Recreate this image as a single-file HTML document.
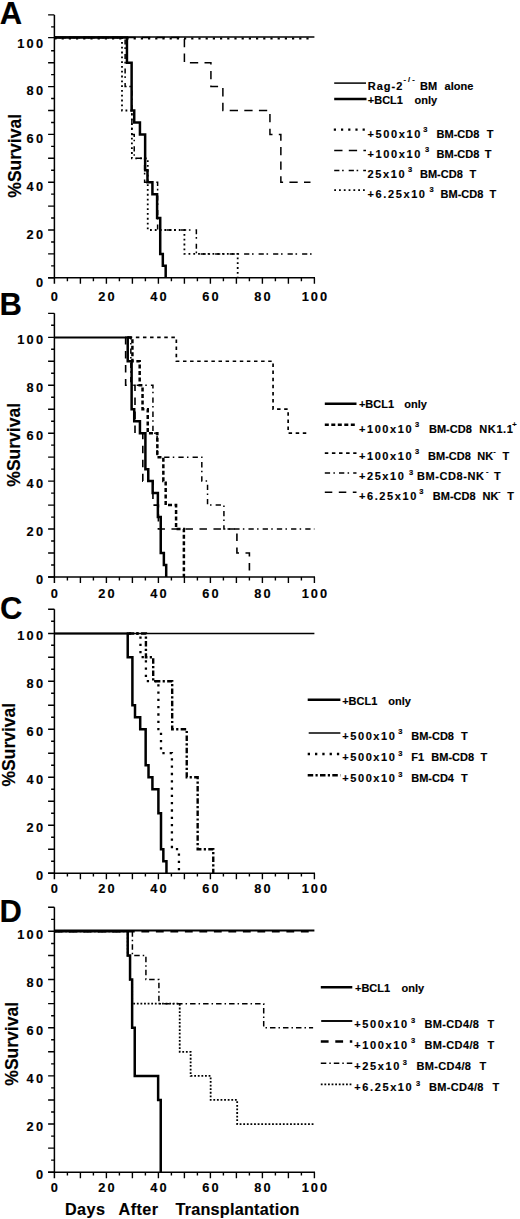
<!DOCTYPE html>
<html><head><meta charset="utf-8"><title>Survival curves</title>
<style>html,body{margin:0;padding:0;background:#fff;}svg{display:block;}
text{font-family:"Liberation Sans",sans-serif;font-weight:bold;}</style></head>
<body><svg width="520" height="1219" viewBox="0 0 520 1219">
<rect width="520" height="1219" fill="#fff"/>
<path d="M54.40,14.90 V283.80" stroke="#000" stroke-width="1.5" fill="none"/>
<path d="M48.10,277.80 H315.00" stroke="#000" stroke-width="1.5" fill="none"/>
<path d="M48.10,277.80 H54.40 M51.10,265.85 H54.40 M48.10,253.90 H54.40 M51.10,241.95 H54.40 M48.10,230.00 H54.40 M51.10,218.05 H54.40 M48.10,206.10 H54.40 M51.10,194.15 H54.40 M48.10,182.20 H54.40 M51.10,170.25 H54.40 M48.10,158.30 H54.40 M51.10,146.35 H54.40 M48.10,134.40 H54.40 M51.10,122.45 H54.40 M48.10,110.50 H54.40 M51.10,98.55 H54.40 M48.10,86.60 H54.40 M51.10,74.65 H54.40 M48.10,62.70 H54.40 M51.10,50.75 H54.40 M48.10,37.60 H54.40 M51.10,26.85 H54.40 M48.10,14.90 H54.40 M67.40,277.80 V281.20 M80.40,277.80 V283.80 M93.40,277.80 V281.20 M106.40,277.80 V283.80 M119.40,277.80 V281.20 M132.40,277.80 V283.80 M145.40,277.80 V281.20 M158.40,277.80 V283.80 M171.40,277.80 V281.20 M184.40,277.80 V283.80 M197.40,277.80 V281.20 M210.40,277.80 V283.80 M223.40,277.80 V281.20 M236.40,277.80 V283.80 M249.40,277.80 V281.20 M262.40,277.80 V283.80 M275.40,277.80 V281.20 M288.40,277.80 V283.80 M301.40,277.80 V281.20 M314.40,277.80 V283.80" stroke="#000" stroke-width="1.4" fill="none"/>
<text x="45.40" y="286.60" font-family="Liberation Sans, sans-serif" font-weight="bold" stroke="#000" stroke-width="0.15" font-size="12.8" letter-spacing="2.3" text-anchor="end">0</text>
<text x="45.40" y="238.80" font-family="Liberation Sans, sans-serif" font-weight="bold" stroke="#000" stroke-width="0.15" font-size="12.8" letter-spacing="2.3" text-anchor="end">20</text>
<text x="45.40" y="191.00" font-family="Liberation Sans, sans-serif" font-weight="bold" stroke="#000" stroke-width="0.15" font-size="12.8" letter-spacing="2.3" text-anchor="end">40</text>
<text x="45.40" y="143.20" font-family="Liberation Sans, sans-serif" font-weight="bold" stroke="#000" stroke-width="0.15" font-size="12.8" letter-spacing="2.3" text-anchor="end">60</text>
<text x="45.40" y="95.40" font-family="Liberation Sans, sans-serif" font-weight="bold" stroke="#000" stroke-width="0.15" font-size="12.8" letter-spacing="2.3" text-anchor="end">80</text>
<text x="45.40" y="47.60" font-family="Liberation Sans, sans-serif" font-weight="bold" stroke="#000" stroke-width="0.15" font-size="12.8" letter-spacing="2.3" text-anchor="end">100</text>
<text x="55.40" y="300.50" font-family="Liberation Sans, sans-serif" font-weight="bold" stroke="#000" stroke-width="0.15" font-size="12.8" letter-spacing="2" text-anchor="middle">0</text>
<text x="107.40" y="300.50" font-family="Liberation Sans, sans-serif" font-weight="bold" stroke="#000" stroke-width="0.15" font-size="12.8" letter-spacing="2" text-anchor="middle">20</text>
<text x="159.40" y="300.50" font-family="Liberation Sans, sans-serif" font-weight="bold" stroke="#000" stroke-width="0.15" font-size="12.8" letter-spacing="2" text-anchor="middle">40</text>
<text x="211.40" y="300.50" font-family="Liberation Sans, sans-serif" font-weight="bold" stroke="#000" stroke-width="0.15" font-size="12.8" letter-spacing="2" text-anchor="middle">60</text>
<text x="263.40" y="300.50" font-family="Liberation Sans, sans-serif" font-weight="bold" stroke="#000" stroke-width="0.15" font-size="12.8" letter-spacing="2" text-anchor="middle">80</text>
<text x="315.40" y="300.50" font-family="Liberation Sans, sans-serif" font-weight="bold" stroke="#000" stroke-width="0.15" font-size="12.8" letter-spacing="2" text-anchor="middle">100</text>
<text x="-0.20" y="23.50" font-family="Liberation Sans, sans-serif" font-weight="bold" stroke="#000" stroke-width="0.15" font-size="31">A</text>
<text transform="translate(20.80,155.80) rotate(-90)" font-family="Liberation Sans, sans-serif" font-weight="bold" stroke="#000" stroke-width="0.15" font-size="17.5" text-anchor="middle">%Survival</text>
<path d="M54.40,37.00 H314.40" fill="none" stroke="#000" stroke-width="1.5"/>
<path d="M54.40,38.50 H313.36" fill="none" stroke="#000" stroke-width="2.2" stroke-dasharray="2.2 5"/>
<path d="M54.40,37.60 H184.40 V62.70 H210.92 V86.60 H222.88 V110.50 H269.94 V134.40 H280.86 V182.20 H310.50" fill="none" stroke="#000" stroke-width="1.5" stroke-dasharray="8.3 6.3"/>
<path d="M54.40,37.60 H125.12 V86.60 H131.88 V134.40 H134.22 V158.30 H144.62 V182.20 H157.62 V230.00 H196.36 V253.90 H314.40" fill="none" stroke="#000" stroke-width="1.5" stroke-dasharray="5.2 2.7 1.6 5"/>
<path d="M54.40,37.60 H122.00 V110.50 H131.88 V158.30 H147.74 V230.00 H184.40 V253.90 H237.70 V277.80" fill="none" stroke="#000" stroke-width="1.8" stroke-dasharray="1.8 3"/>
<path d="M54.40,37.60 H126.94 V62.70 H131.62 V110.50 H134.22 V122.45 H139.94 V134.40 H145.14 V170.25 H147.48 V182.20 H152.42 V194.15 H157.10 V218.05 H160.22 V253.90 H162.82 V265.85 H165.68 V277.80" fill="none" stroke="#000" stroke-width="2.5"/>
<path d="M54.40,313.33 V583.00" stroke="#000" stroke-width="1.5" fill="none"/>
<path d="M48.10,577.00 H315.00" stroke="#000" stroke-width="1.5" fill="none"/>
<path d="M48.10,577.00 H54.40 M51.10,565.01 H54.40 M48.10,553.03 H54.40 M51.10,541.04 H54.40 M48.10,529.06 H54.40 M51.10,517.08 H54.40 M48.10,505.09 H54.40 M51.10,493.11 H54.40 M48.10,481.12 H54.40 M51.10,469.13 H54.40 M48.10,457.15 H54.40 M51.10,445.17 H54.40 M48.10,433.18 H54.40 M51.10,421.20 H54.40 M48.10,409.21 H54.40 M51.10,397.23 H54.40 M48.10,385.24 H54.40 M51.10,373.25 H54.40 M48.10,361.27 H54.40 M51.10,349.29 H54.40 M48.10,337.40 H54.40 M51.10,325.32 H54.40 M48.10,313.33 H54.40 M67.40,577.00 V580.40 M80.40,577.00 V583.00 M93.40,577.00 V580.40 M106.40,577.00 V583.00 M119.40,577.00 V580.40 M132.40,577.00 V583.00 M145.40,577.00 V580.40 M158.40,577.00 V583.00 M171.40,577.00 V580.40 M184.40,577.00 V583.00 M197.40,577.00 V580.40 M210.40,577.00 V583.00 M223.40,577.00 V580.40 M236.40,577.00 V583.00 M249.40,577.00 V580.40 M262.40,577.00 V583.00 M275.40,577.00 V580.40 M288.40,577.00 V583.00 M301.40,577.00 V580.40 M314.40,577.00 V583.00" stroke="#000" stroke-width="1.4" fill="none"/>
<text x="45.40" y="583.90" font-family="Liberation Sans, sans-serif" font-weight="bold" stroke="#000" stroke-width="0.15" font-size="12.8" letter-spacing="2.3" text-anchor="end">0</text>
<text x="45.40" y="535.96" font-family="Liberation Sans, sans-serif" font-weight="bold" stroke="#000" stroke-width="0.15" font-size="12.8" letter-spacing="2.3" text-anchor="end">20</text>
<text x="45.40" y="488.02" font-family="Liberation Sans, sans-serif" font-weight="bold" stroke="#000" stroke-width="0.15" font-size="12.8" letter-spacing="2.3" text-anchor="end">40</text>
<text x="45.40" y="440.08" font-family="Liberation Sans, sans-serif" font-weight="bold" stroke="#000" stroke-width="0.15" font-size="12.8" letter-spacing="2.3" text-anchor="end">60</text>
<text x="45.40" y="392.14" font-family="Liberation Sans, sans-serif" font-weight="bold" stroke="#000" stroke-width="0.15" font-size="12.8" letter-spacing="2.3" text-anchor="end">80</text>
<text x="45.40" y="344.20" font-family="Liberation Sans, sans-serif" font-weight="bold" stroke="#000" stroke-width="0.15" font-size="12.8" letter-spacing="2.3" text-anchor="end">100</text>
<text x="55.40" y="597.50" font-family="Liberation Sans, sans-serif" font-weight="bold" stroke="#000" stroke-width="0.15" font-size="12.8" letter-spacing="2" text-anchor="middle">0</text>
<text x="107.40" y="597.50" font-family="Liberation Sans, sans-serif" font-weight="bold" stroke="#000" stroke-width="0.15" font-size="12.8" letter-spacing="2" text-anchor="middle">20</text>
<text x="159.40" y="597.50" font-family="Liberation Sans, sans-serif" font-weight="bold" stroke="#000" stroke-width="0.15" font-size="12.8" letter-spacing="2" text-anchor="middle">40</text>
<text x="211.40" y="597.50" font-family="Liberation Sans, sans-serif" font-weight="bold" stroke="#000" stroke-width="0.15" font-size="12.8" letter-spacing="2" text-anchor="middle">60</text>
<text x="263.40" y="597.50" font-family="Liberation Sans, sans-serif" font-weight="bold" stroke="#000" stroke-width="0.15" font-size="12.8" letter-spacing="2" text-anchor="middle">80</text>
<text x="315.40" y="597.50" font-family="Liberation Sans, sans-serif" font-weight="bold" stroke="#000" stroke-width="0.15" font-size="12.8" letter-spacing="2" text-anchor="middle">100</text>
<text x="-0.60" y="315.20" font-family="Liberation Sans, sans-serif" font-weight="bold" stroke="#000" stroke-width="0.15" font-size="31">B</text>
<text transform="translate(20.40,444.80) rotate(-90)" font-family="Liberation Sans, sans-serif" font-weight="bold" stroke="#000" stroke-width="0.15" font-size="17.5" text-anchor="middle">%Survival</text>
<path d="M54.40,337.40 H127.72" stroke="#000" stroke-width="2.0" fill="none"/>
<path d="M128.76,337.40 H176.34 V361.27 H273.06 V409.21 H288.14 V433.18 H309.46" fill="none" stroke="#000" stroke-width="1.7" stroke-dasharray="3.5 3.6"/>
<path d="M127.72,337.40 H130.84 V385.24 H152.94 V433.18 H157.10 V457.15 H201.82 V481.12 H207.54 V505.09 H223.92 V529.06 H314.40" fill="none" stroke="#000" stroke-width="1.5" stroke-dasharray="5.3 3.3 1.5 4.1"/>
<path d="M125.12,337.40 H125.64 V385.24 H135.00 V433.18 H142.80 V481.12 H152.94 V505.09 H158.40 V529.06 H236.92 V553.03 H249.40 V577.00" fill="none" stroke="#000" stroke-width="1.6" stroke-dasharray="7.5 6.5"/>
<path d="M127.72,337.40 H132.40 V361.27 H139.68 V385.24 H142.54 V409.21 H147.74 V433.18 H157.36 V457.15 H163.34 V481.12 H165.68 V505.09 H176.08 V529.06 H183.88 V577.00" fill="none" stroke="#000" stroke-width="2.5" stroke-dasharray="4 2.5"/>
<path d="M126.68,337.40 H127.72 V361.27 H131.62 V409.21 H134.22 V421.20 H139.94 V433.18 H145.40 V469.13 H148.26 V481.12 H152.68 V493.11 H157.88 V517.08 H160.74 V553.03 H163.86 V565.01 H166.20 V577.00" fill="none" stroke="#000" stroke-width="2.5"/>
<path d="M54.40,609.20 V879.20" stroke="#000" stroke-width="1.5" fill="none"/>
<path d="M48.10,873.20 H315.00" stroke="#000" stroke-width="1.5" fill="none"/>
<path d="M48.10,873.20 H54.40 M51.10,861.20 H54.40 M48.10,849.20 H54.40 M51.10,837.20 H54.40 M48.10,825.20 H54.40 M51.10,813.20 H54.40 M48.10,801.20 H54.40 M51.10,789.20 H54.40 M48.10,777.20 H54.40 M51.10,765.20 H54.40 M48.10,753.20 H54.40 M51.10,741.20 H54.40 M48.10,729.20 H54.40 M51.10,717.20 H54.40 M48.10,705.20 H54.40 M51.10,693.20 H54.40 M48.10,681.20 H54.40 M51.10,669.20 H54.40 M48.10,657.20 H54.40 M51.10,645.20 H54.40 M48.10,633.50 H54.40 M51.10,621.20 H54.40 M48.10,609.20 H54.40 M67.40,873.20 V876.60 M80.40,873.20 V879.20 M93.40,873.20 V876.60 M106.40,873.20 V879.20 M119.40,873.20 V876.60 M132.40,873.20 V879.20 M145.40,873.20 V876.60 M158.40,873.20 V879.20 M171.40,873.20 V876.60 M184.40,873.20 V879.20 M197.40,873.20 V876.60 M210.40,873.20 V879.20 M223.40,873.20 V876.60 M236.40,873.20 V879.20 M249.40,873.20 V876.60 M262.40,873.20 V879.20 M275.40,873.20 V876.60 M288.40,873.20 V879.20 M301.40,873.20 V876.60 M314.40,873.20 V879.20" stroke="#000" stroke-width="1.4" fill="none"/>
<text x="45.40" y="879.90" font-family="Liberation Sans, sans-serif" font-weight="bold" stroke="#000" stroke-width="0.15" font-size="12.8" letter-spacing="2.3" text-anchor="end">0</text>
<text x="45.40" y="831.90" font-family="Liberation Sans, sans-serif" font-weight="bold" stroke="#000" stroke-width="0.15" font-size="12.8" letter-spacing="2.3" text-anchor="end">20</text>
<text x="45.40" y="783.90" font-family="Liberation Sans, sans-serif" font-weight="bold" stroke="#000" stroke-width="0.15" font-size="12.8" letter-spacing="2.3" text-anchor="end">40</text>
<text x="45.40" y="735.90" font-family="Liberation Sans, sans-serif" font-weight="bold" stroke="#000" stroke-width="0.15" font-size="12.8" letter-spacing="2.3" text-anchor="end">60</text>
<text x="45.40" y="687.90" font-family="Liberation Sans, sans-serif" font-weight="bold" stroke="#000" stroke-width="0.15" font-size="12.8" letter-spacing="2.3" text-anchor="end">80</text>
<text x="45.40" y="639.90" font-family="Liberation Sans, sans-serif" font-weight="bold" stroke="#000" stroke-width="0.15" font-size="12.8" letter-spacing="2.3" text-anchor="end">100</text>
<text x="55.40" y="893.20" font-family="Liberation Sans, sans-serif" font-weight="bold" stroke="#000" stroke-width="0.15" font-size="12.8" letter-spacing="2" text-anchor="middle">0</text>
<text x="107.40" y="893.20" font-family="Liberation Sans, sans-serif" font-weight="bold" stroke="#000" stroke-width="0.15" font-size="12.8" letter-spacing="2" text-anchor="middle">20</text>
<text x="159.40" y="893.20" font-family="Liberation Sans, sans-serif" font-weight="bold" stroke="#000" stroke-width="0.15" font-size="12.8" letter-spacing="2" text-anchor="middle">40</text>
<text x="211.40" y="893.20" font-family="Liberation Sans, sans-serif" font-weight="bold" stroke="#000" stroke-width="0.15" font-size="12.8" letter-spacing="2" text-anchor="middle">60</text>
<text x="263.40" y="893.20" font-family="Liberation Sans, sans-serif" font-weight="bold" stroke="#000" stroke-width="0.15" font-size="12.8" letter-spacing="2" text-anchor="middle">80</text>
<text x="315.40" y="893.20" font-family="Liberation Sans, sans-serif" font-weight="bold" stroke="#000" stroke-width="0.15" font-size="12.8" letter-spacing="2" text-anchor="middle">100</text>
<text x="0.00" y="619.00" font-family="Liberation Sans, sans-serif" font-weight="bold" stroke="#000" stroke-width="0.15" font-size="31">C</text>
<text transform="translate(14.60,744.70) rotate(-90)" font-family="Liberation Sans, sans-serif" font-weight="bold" stroke="#000" stroke-width="0.15" font-size="17.5" text-anchor="middle">%Survival</text>
<path d="M54.40,633.50 H314.40" fill="none" stroke="#000" stroke-width="1.5"/>
<path d="M54.40,633.50 H127.72" stroke="#000" stroke-width="2.0" fill="none"/>
<path d="M128.76,633.50 H140.46 V657.20 H145.92 V681.20 H158.40 V729.20 H161.00 V753.20 H171.92 V849.20 H178.94 V873.20" fill="none" stroke="#000" stroke-width="2.3" stroke-dasharray="2.3 5"/>
<path d="M128.76,633.50 H145.92 V657.20 H153.20 V681.20 H172.18 V729.20 H186.74 V777.20 H197.66 V849.20 H213.26 V873.20" fill="none" stroke="#000" stroke-width="2.4" stroke-dasharray="5.5 2.3 2.2 2.3"/>
<path d="M126.68,633.50 H127.72 V657.20 H132.40 V705.20 H135.00 V717.20 H140.20 V729.20 H145.66 V765.20 H148.52 V777.20 H152.42 V789.20 H158.40 V813.20 H161.00 V849.20 H163.34 V861.20 H166.46 V873.20" fill="none" stroke="#000" stroke-width="2.5"/>
<path d="M54.40,907.32 V1178.20" stroke="#000" stroke-width="1.5" fill="none"/>
<path d="M48.10,1172.20 H315.00" stroke="#000" stroke-width="1.5" fill="none"/>
<path d="M48.10,1172.20 H54.40 M51.10,1160.16 H54.40 M48.10,1148.12 H54.40 M51.10,1136.08 H54.40 M48.10,1124.04 H54.40 M51.10,1112.00 H54.40 M48.10,1099.96 H54.40 M51.10,1087.92 H54.40 M48.10,1075.88 H54.40 M51.10,1063.84 H54.40 M48.10,1051.80 H54.40 M51.10,1039.76 H54.40 M48.10,1027.72 H54.40 M51.10,1015.68 H54.40 M48.10,1003.64 H54.40 M51.10,991.60 H54.40 M48.10,979.56 H54.40 M51.10,967.52 H54.40 M48.10,955.48 H54.40 M51.10,943.44 H54.40 M48.10,931.30 H54.40 M51.10,919.36 H54.40 M48.10,907.32 H54.40 M67.40,1172.20 V1175.60 M80.40,1172.20 V1178.20 M93.40,1172.20 V1175.60 M106.40,1172.20 V1178.20 M119.40,1172.20 V1175.60 M132.40,1172.20 V1178.20 M145.40,1172.20 V1175.60 M158.40,1172.20 V1178.20 M171.40,1172.20 V1175.60 M184.40,1172.20 V1178.20 M197.40,1172.20 V1175.60 M210.40,1172.20 V1178.20 M223.40,1172.20 V1175.60 M236.40,1172.20 V1178.20 M249.40,1172.20 V1175.60 M262.40,1172.20 V1178.20 M275.40,1172.20 V1175.60 M288.40,1172.20 V1178.20 M301.40,1172.20 V1175.60 M314.40,1172.20 V1178.20" stroke="#000" stroke-width="1.4" fill="none"/>
<text x="45.40" y="1179.40" font-family="Liberation Sans, sans-serif" font-weight="bold" stroke="#000" stroke-width="0.15" font-size="12.8" letter-spacing="2.3" text-anchor="end">0</text>
<text x="45.40" y="1131.24" font-family="Liberation Sans, sans-serif" font-weight="bold" stroke="#000" stroke-width="0.15" font-size="12.8" letter-spacing="2.3" text-anchor="end">20</text>
<text x="45.40" y="1083.08" font-family="Liberation Sans, sans-serif" font-weight="bold" stroke="#000" stroke-width="0.15" font-size="12.8" letter-spacing="2.3" text-anchor="end">40</text>
<text x="45.40" y="1034.92" font-family="Liberation Sans, sans-serif" font-weight="bold" stroke="#000" stroke-width="0.15" font-size="12.8" letter-spacing="2.3" text-anchor="end">60</text>
<text x="45.40" y="986.76" font-family="Liberation Sans, sans-serif" font-weight="bold" stroke="#000" stroke-width="0.15" font-size="12.8" letter-spacing="2.3" text-anchor="end">80</text>
<text x="45.40" y="938.60" font-family="Liberation Sans, sans-serif" font-weight="bold" stroke="#000" stroke-width="0.15" font-size="12.8" letter-spacing="2.3" text-anchor="end">100</text>
<text x="55.40" y="1191.80" font-family="Liberation Sans, sans-serif" font-weight="bold" stroke="#000" stroke-width="0.15" font-size="12.8" letter-spacing="2" text-anchor="middle">0</text>
<text x="107.40" y="1191.80" font-family="Liberation Sans, sans-serif" font-weight="bold" stroke="#000" stroke-width="0.15" font-size="12.8" letter-spacing="2" text-anchor="middle">20</text>
<text x="159.40" y="1191.80" font-family="Liberation Sans, sans-serif" font-weight="bold" stroke="#000" stroke-width="0.15" font-size="12.8" letter-spacing="2" text-anchor="middle">40</text>
<text x="211.40" y="1191.80" font-family="Liberation Sans, sans-serif" font-weight="bold" stroke="#000" stroke-width="0.15" font-size="12.8" letter-spacing="2" text-anchor="middle">60</text>
<text x="263.40" y="1191.80" font-family="Liberation Sans, sans-serif" font-weight="bold" stroke="#000" stroke-width="0.15" font-size="12.8" letter-spacing="2" text-anchor="middle">80</text>
<text x="315.40" y="1191.80" font-family="Liberation Sans, sans-serif" font-weight="bold" stroke="#000" stroke-width="0.15" font-size="12.8" letter-spacing="2" text-anchor="middle">100</text>
<text x="-0.40" y="922.20" font-family="Liberation Sans, sans-serif" font-weight="bold" stroke="#000" stroke-width="0.15" font-size="31">D</text>
<text transform="translate(18.40,1043.80) rotate(-90)" font-family="Liberation Sans, sans-serif" font-weight="bold" stroke="#000" stroke-width="0.15" font-size="17.5" text-anchor="middle">%Survival</text>
<path d="M54.40,930.50 H314.40" fill="none" stroke="#000" stroke-width="1.9"/>
<path d="M54.40,931.20 H314.40" fill="none" stroke="#000" stroke-width="2.4" stroke-dasharray="7.8 6.7"/>
<path d="M54.40,931.30 H132.40 V955.48 H145.92 V979.56 H158.92 V1003.64 H263.70 V1027.72 H313.10" fill="none" stroke="#000" stroke-width="1.5" stroke-dasharray="5.5 3 1.5 3"/>
<path d="M54.40,931.30 H127.72 V955.48 H130.06 V979.56 H132.14 V1003.64 H179.72 V1051.80 H190.64 V1075.88 H210.66 V1099.96 H237.18 V1124.04 H314.40" fill="none" stroke="#000" stroke-width="1.8" stroke-dasharray="1.8 1.8"/>
<path d="M54.40,931.30 H127.72 V955.48 H130.06 V979.56 H132.14 V1027.72 H134.74 V1075.88 H158.14 V1099.96 H160.74 V1172.20" fill="none" stroke="#000" stroke-width="2.5"/>
<path d="M334.20,83.10 H366.00" stroke="#000" fill="none" stroke-width="1.5"/>
<text x="367.80" y="90.20" font-family="Liberation Sans, sans-serif" font-weight="bold" stroke="#000" stroke-width="0.15" font-size="11" letter-spacing="1.0">Rag-2</text>
<text x="403.60" y="82.30" font-family="Liberation Sans, sans-serif" font-weight="bold" stroke="#000" stroke-width="0.15" font-size="7.5" letter-spacing="2.0">-/-</text>
<text x="420.00" y="90.20" font-family="Liberation Sans, sans-serif" font-weight="bold" stroke="#000" stroke-width="0.15" font-size="11" letter-spacing="0">BM</text>
<text x="444.60" y="90.20" font-family="Liberation Sans, sans-serif" font-weight="bold" stroke="#000" stroke-width="0.15" font-size="11" letter-spacing="0">alone</text>
<path d="M334.20,99.00 H366.50" stroke="#000" fill="none" stroke-width="2.5"/>
<text x="367.80" y="103.70" font-family="Liberation Sans, sans-serif" font-weight="bold" stroke="#000" stroke-width="0.15" font-size="11" letter-spacing="0">+BCL1</text>
<text x="414.60" y="103.70" font-family="Liberation Sans, sans-serif" font-weight="bold" stroke="#000" stroke-width="0.15" font-size="11" letter-spacing="0">only</text>
<path d="M333.80,129.60 H366.00" stroke="#000" fill="none" stroke-width="2.2" stroke-dasharray="2.2 5"/>
<text x="367.60" y="137.80" font-family="Liberation Sans, sans-serif" font-weight="bold" stroke="#000" stroke-width="0.15" font-size="11" letter-spacing="1.6">+500x10</text>
<text x="423.30" y="132.30" font-family="Liberation Sans, sans-serif" font-weight="bold" stroke="#000" stroke-width="0.15" font-size="7.5" letter-spacing="0">3</text>
<text x="436.60" y="137.80" font-family="Liberation Sans, sans-serif" font-weight="bold" stroke="#000" stroke-width="0.15" font-size="11" letter-spacing="0">BM-CD8</text>
<text x="486.80" y="137.80" font-family="Liberation Sans, sans-serif" font-weight="bold" stroke="#000" stroke-width="0.15" font-size="11" letter-spacing="0">T</text>
<path d="M334.20,150.40 H366.00" stroke="#000" fill="none" stroke-width="1.5" stroke-dasharray="8.3 6.3"/>
<text x="367.60" y="157.60" font-family="Liberation Sans, sans-serif" font-weight="bold" stroke="#000" stroke-width="0.15" font-size="11" letter-spacing="1.6">+100x10</text>
<text x="425.00" y="152.10" font-family="Liberation Sans, sans-serif" font-weight="bold" stroke="#000" stroke-width="0.15" font-size="7.5" letter-spacing="0">3</text>
<text x="436.60" y="157.60" font-family="Liberation Sans, sans-serif" font-weight="bold" stroke="#000" stroke-width="0.15" font-size="11" letter-spacing="0">BM-CD8</text>
<text x="484.80" y="157.60" font-family="Liberation Sans, sans-serif" font-weight="bold" stroke="#000" stroke-width="0.15" font-size="11" letter-spacing="0">T</text>
<path d="M334.20,170.60 H366.00" stroke="#000" fill="none" stroke-width="1.5" stroke-dasharray="5.2 2.7 1.6 5"/>
<text x="367.60" y="177.60" font-family="Liberation Sans, sans-serif" font-weight="bold" stroke="#000" stroke-width="0.15" font-size="11" letter-spacing="1.6">25x10</text>
<text x="408.00" y="172.10" font-family="Liberation Sans, sans-serif" font-weight="bold" stroke="#000" stroke-width="0.15" font-size="7.5" letter-spacing="0">3</text>
<text x="420.00" y="177.60" font-family="Liberation Sans, sans-serif" font-weight="bold" stroke="#000" stroke-width="0.15" font-size="11" letter-spacing="0">BM-CD8</text>
<text x="469.40" y="177.60" font-family="Liberation Sans, sans-serif" font-weight="bold" stroke="#000" stroke-width="0.15" font-size="11" letter-spacing="0">T</text>
<path d="M334.20,190.20 H366.00" stroke="#000" fill="none" stroke-width="1.8" stroke-dasharray="1.8 3"/>
<text x="367.60" y="197.80" font-family="Liberation Sans, sans-serif" font-weight="bold" stroke="#000" stroke-width="0.15" font-size="11" letter-spacing="1.6">+6.25x10</text>
<text x="429.60" y="192.30" font-family="Liberation Sans, sans-serif" font-weight="bold" stroke="#000" stroke-width="0.15" font-size="7.5" letter-spacing="0">3</text>
<text x="440.60" y="197.80" font-family="Liberation Sans, sans-serif" font-weight="bold" stroke="#000" stroke-width="0.15" font-size="11" letter-spacing="0">BM-CD8</text>
<text x="489.60" y="197.80" font-family="Liberation Sans, sans-serif" font-weight="bold" stroke="#000" stroke-width="0.15" font-size="11" letter-spacing="0">T</text>
<path d="M324.80,403.70 H356.50" stroke="#000" fill="none" stroke-width="2.5"/>
<text x="358.90" y="408.20" font-family="Liberation Sans, sans-serif" font-weight="bold" stroke="#000" stroke-width="0.15" font-size="11" letter-spacing="0">+BCL1</text>
<text x="404.20" y="408.20" font-family="Liberation Sans, sans-serif" font-weight="bold" stroke="#000" stroke-width="0.15" font-size="11" letter-spacing="0">only</text>
<path d="M324.80,424.80 H356.50" stroke="#000" fill="none" stroke-width="2.5" stroke-dasharray="4 2.5"/>
<text x="358.90" y="432.60" font-family="Liberation Sans, sans-serif" font-weight="bold" stroke="#000" stroke-width="0.15" font-size="11" letter-spacing="1.6">+100x10</text>
<text x="415.00" y="427.10" font-family="Liberation Sans, sans-serif" font-weight="bold" stroke="#000" stroke-width="0.15" font-size="7.5" letter-spacing="0">3</text>
<text x="429.00" y="432.60" font-family="Liberation Sans, sans-serif" font-weight="bold" stroke="#000" stroke-width="0.15" font-size="11" letter-spacing="0">BM-CD8</text>
<text x="479.30" y="432.60" font-family="Liberation Sans, sans-serif" font-weight="bold" stroke="#000" stroke-width="0.15" font-size="11" letter-spacing="0.6">NK1.1</text>
<text x="512.20" y="426.50" font-family="Liberation Sans, sans-serif" font-weight="bold" stroke="#000" stroke-width="0.15" font-size="7.5" letter-spacing="0">+</text>
<path d="M324.80,453.10 H356.50" stroke="#000" fill="none" stroke-width="1.7" stroke-dasharray="3.5 3.6"/>
<text x="358.90" y="459.70" font-family="Liberation Sans, sans-serif" font-weight="bold" stroke="#000" stroke-width="0.15" font-size="11" letter-spacing="1.6">+100x10</text>
<text x="415.00" y="454.20" font-family="Liberation Sans, sans-serif" font-weight="bold" stroke="#000" stroke-width="0.15" font-size="7.5" letter-spacing="0">3</text>
<text x="428.10" y="459.70" font-family="Liberation Sans, sans-serif" font-weight="bold" stroke="#000" stroke-width="0.15" font-size="11" letter-spacing="0">BM-CD8</text>
<text x="477.20" y="459.70" font-family="Liberation Sans, sans-serif" font-weight="bold" stroke="#000" stroke-width="0.15" font-size="11" letter-spacing="0">NK</text>
<text x="493.30" y="454.00" font-family="Liberation Sans, sans-serif" font-weight="bold" stroke="#000" stroke-width="0.15" font-size="7.5" letter-spacing="0">-</text>
<text x="502.50" y="459.70" font-family="Liberation Sans, sans-serif" font-weight="bold" stroke="#000" stroke-width="0.15" font-size="11" letter-spacing="0">T</text>
<path d="M324.80,473.10 H356.50" stroke="#000" fill="none" stroke-width="1.5" stroke-dasharray="5.3 3.3 1.5 4.1"/>
<text x="358.90" y="480.00" font-family="Liberation Sans, sans-serif" font-weight="bold" stroke="#000" stroke-width="0.15" font-size="11" letter-spacing="1.6">+25x10</text>
<text x="409.00" y="474.50" font-family="Liberation Sans, sans-serif" font-weight="bold" stroke="#000" stroke-width="0.15" font-size="7.5" letter-spacing="0">3</text>
<text x="416.90" y="480.00" font-family="Liberation Sans, sans-serif" font-weight="bold" stroke="#000" stroke-width="0.15" font-size="11" letter-spacing="0.6">BM-CD8-NK</text>
<text x="485.90" y="474.30" font-family="Liberation Sans, sans-serif" font-weight="bold" stroke="#000" stroke-width="0.15" font-size="7.5" letter-spacing="0">-</text>
<text x="494.10" y="480.00" font-family="Liberation Sans, sans-serif" font-weight="bold" stroke="#000" stroke-width="0.15" font-size="11" letter-spacing="0">T</text>
<path d="M324.80,492.30 H356.50" stroke="#000" fill="none" stroke-width="1.6" stroke-dasharray="7.5 6.5"/>
<text x="358.90" y="499.60" font-family="Liberation Sans, sans-serif" font-weight="bold" stroke="#000" stroke-width="0.15" font-size="11" letter-spacing="1.6">+6.25x10</text>
<text x="419.20" y="494.10" font-family="Liberation Sans, sans-serif" font-weight="bold" stroke="#000" stroke-width="0.15" font-size="7.5" letter-spacing="0">3</text>
<text x="432.80" y="499.60" font-family="Liberation Sans, sans-serif" font-weight="bold" stroke="#000" stroke-width="0.15" font-size="11" letter-spacing="0">BM-CD8</text>
<text x="482.50" y="499.60" font-family="Liberation Sans, sans-serif" font-weight="bold" stroke="#000" stroke-width="0.15" font-size="11" letter-spacing="0">NK</text>
<text x="498.10" y="493.90" font-family="Liberation Sans, sans-serif" font-weight="bold" stroke="#000" stroke-width="0.15" font-size="7.5" letter-spacing="0">-</text>
<text x="507.20" y="499.60" font-family="Liberation Sans, sans-serif" font-weight="bold" stroke="#000" stroke-width="0.15" font-size="11" letter-spacing="0">T</text>
<path d="M307.70,699.80 H340.40" stroke="#000" fill="none" stroke-width="2.5"/>
<text x="342.20" y="705.00" font-family="Liberation Sans, sans-serif" font-weight="bold" stroke="#000" stroke-width="0.15" font-size="11" letter-spacing="0">+BCL1</text>
<text x="388.30" y="705.00" font-family="Liberation Sans, sans-serif" font-weight="bold" stroke="#000" stroke-width="0.15" font-size="11" letter-spacing="0">only</text>
<path d="M308.70,732.90 H340.40" stroke="#000" fill="none" stroke-width="1.5"/>
<text x="342.20" y="739.70" font-family="Liberation Sans, sans-serif" font-weight="bold" stroke="#000" stroke-width="0.15" font-size="11" letter-spacing="1.6">+500x10</text>
<text x="398.30" y="734.20" font-family="Liberation Sans, sans-serif" font-weight="bold" stroke="#000" stroke-width="0.15" font-size="7.5" letter-spacing="0">3</text>
<text x="411.20" y="739.70" font-family="Liberation Sans, sans-serif" font-weight="bold" stroke="#000" stroke-width="0.15" font-size="11" letter-spacing="0">BM-CD8</text>
<text x="460.90" y="739.70" font-family="Liberation Sans, sans-serif" font-weight="bold" stroke="#000" stroke-width="0.15" font-size="11" letter-spacing="0">T</text>
<path d="M307.70,754.00 H340.40" stroke="#000" fill="none" stroke-width="2.3" stroke-dasharray="2.3 5"/>
<text x="342.20" y="761.20" font-family="Liberation Sans, sans-serif" font-weight="bold" stroke="#000" stroke-width="0.15" font-size="11" letter-spacing="1.6">+500x10</text>
<text x="398.30" y="755.70" font-family="Liberation Sans, sans-serif" font-weight="bold" stroke="#000" stroke-width="0.15" font-size="7.5" letter-spacing="0">3</text>
<text x="411.20" y="761.20" font-family="Liberation Sans, sans-serif" font-weight="bold" stroke="#000" stroke-width="0.15" font-size="11" letter-spacing="0">F1</text>
<text x="431.30" y="761.20" font-family="Liberation Sans, sans-serif" font-weight="bold" stroke="#000" stroke-width="0.15" font-size="11" letter-spacing="0">BM-CD8</text>
<text x="480.60" y="761.20" font-family="Liberation Sans, sans-serif" font-weight="bold" stroke="#000" stroke-width="0.15" font-size="11" letter-spacing="0">T</text>
<path d="M307.70,775.20 H340.40" stroke="#000" fill="none" stroke-width="2.4" stroke-dasharray="5.5 2.3 2.2 2.3"/>
<text x="342.20" y="782.00" font-family="Liberation Sans, sans-serif" font-weight="bold" stroke="#000" stroke-width="0.15" font-size="11" letter-spacing="1.6">+500x10</text>
<text x="398.30" y="776.50" font-family="Liberation Sans, sans-serif" font-weight="bold" stroke="#000" stroke-width="0.15" font-size="7.5" letter-spacing="0">3</text>
<text x="411.20" y="782.00" font-family="Liberation Sans, sans-serif" font-weight="bold" stroke="#000" stroke-width="0.15" font-size="11" letter-spacing="0">BM-CD4</text>
<text x="460.90" y="782.00" font-family="Liberation Sans, sans-serif" font-weight="bold" stroke="#000" stroke-width="0.15" font-size="11" letter-spacing="0">T</text>
<path d="M320.80,987.30 H352.30" stroke="#000" fill="none" stroke-width="2.5"/>
<text x="355.00" y="992.20" font-family="Liberation Sans, sans-serif" font-weight="bold" stroke="#000" stroke-width="0.15" font-size="11" letter-spacing="0">+BCL1</text>
<text x="401.60" y="992.20" font-family="Liberation Sans, sans-serif" font-weight="bold" stroke="#000" stroke-width="0.15" font-size="11" letter-spacing="0">only</text>
<path d="M321.20,1021.00 H352.30" stroke="#000" fill="none" stroke-width="1.9"/>
<text x="354.30" y="1028.20" font-family="Liberation Sans, sans-serif" font-weight="bold" stroke="#000" stroke-width="0.15" font-size="11" letter-spacing="1.6">+500x10</text>
<text x="411.00" y="1022.70" font-family="Liberation Sans, sans-serif" font-weight="bold" stroke="#000" stroke-width="0.15" font-size="7.5" letter-spacing="0">3</text>
<text x="424.50" y="1028.20" font-family="Liberation Sans, sans-serif" font-weight="bold" stroke="#000" stroke-width="0.15" font-size="11" letter-spacing="0.35">BM-CD4/8</text>
<text x="487.50" y="1028.20" font-family="Liberation Sans, sans-serif" font-weight="bold" stroke="#000" stroke-width="0.15" font-size="11" letter-spacing="0">T</text>
<path d="M320.80,1041.50 H352.30" stroke="#000" fill="none" stroke-width="2.4" stroke-dasharray="7.8 6.7"/>
<text x="354.30" y="1048.90" font-family="Liberation Sans, sans-serif" font-weight="bold" stroke="#000" stroke-width="0.15" font-size="11" letter-spacing="1.6">+100x10</text>
<text x="411.00" y="1043.40" font-family="Liberation Sans, sans-serif" font-weight="bold" stroke="#000" stroke-width="0.15" font-size="7.5" letter-spacing="0">3</text>
<text x="424.50" y="1048.90" font-family="Liberation Sans, sans-serif" font-weight="bold" stroke="#000" stroke-width="0.15" font-size="11" letter-spacing="0.35">BM-CD4/8</text>
<text x="487.50" y="1048.90" font-family="Liberation Sans, sans-serif" font-weight="bold" stroke="#000" stroke-width="0.15" font-size="11" letter-spacing="0">T</text>
<path d="M320.80,1063.30 H352.30" stroke="#000" fill="none" stroke-width="1.5" stroke-dasharray="5.5 3 1.5 3"/>
<text x="354.30" y="1070.10" font-family="Liberation Sans, sans-serif" font-weight="bold" stroke="#000" stroke-width="0.15" font-size="11" letter-spacing="1.6">+25x10</text>
<text x="402.70" y="1064.60" font-family="Liberation Sans, sans-serif" font-weight="bold" stroke="#000" stroke-width="0.15" font-size="7.5" letter-spacing="0">3</text>
<text x="416.50" y="1070.10" font-family="Liberation Sans, sans-serif" font-weight="bold" stroke="#000" stroke-width="0.15" font-size="11" letter-spacing="0.35">BM-CD4/8</text>
<text x="479.50" y="1070.10" font-family="Liberation Sans, sans-serif" font-weight="bold" stroke="#000" stroke-width="0.15" font-size="11" letter-spacing="0">T</text>
<path d="M320.80,1084.40 H352.30" stroke="#000" fill="none" stroke-width="1.8" stroke-dasharray="1.8 1.8"/>
<text x="354.30" y="1091.30" font-family="Liberation Sans, sans-serif" font-weight="bold" stroke="#000" stroke-width="0.15" font-size="11" letter-spacing="1.6">+6.25x10</text>
<text x="416.00" y="1085.80" font-family="Liberation Sans, sans-serif" font-weight="bold" stroke="#000" stroke-width="0.15" font-size="7.5" letter-spacing="0">3</text>
<text x="429.00" y="1091.30" font-family="Liberation Sans, sans-serif" font-weight="bold" stroke="#000" stroke-width="0.15" font-size="11" letter-spacing="0.35">BM-CD4/8</text>
<text x="492.50" y="1091.30" font-family="Liberation Sans, sans-serif" font-weight="bold" stroke="#000" stroke-width="0.15" font-size="11" letter-spacing="0">T</text>
<text x="65.0" y="1214.6" font-family="Liberation Sans, sans-serif" font-weight="bold" stroke="#000" stroke-width="0.15" font-size="16.2" letter-spacing="0.4">Days</text>
<text x="118.6" y="1214.6" font-family="Liberation Sans, sans-serif" font-weight="bold" stroke="#000" stroke-width="0.15" font-size="16.2" letter-spacing="0.4">After</text>
<text x="175.4" y="1214.6" font-family="Liberation Sans, sans-serif" font-weight="bold" stroke="#000" stroke-width="0.15" font-size="16.2" letter-spacing="0.25">Transplantation</text>
</svg></body></html>
